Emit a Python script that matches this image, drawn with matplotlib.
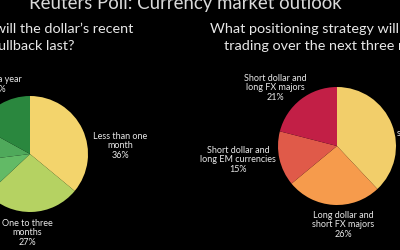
import matplotlib
matplotlib.use('Agg')
import matplotlib.pyplot as plt

W, H = 400, 251

title = "Reuters Poll: Currency market outlook"

# left poll: how long will the pullback last
q1_lines = ["How long will the dollar\u2019s recent", "pullback last?"]
left_labels = ["Less than one\nmonth", "One to three\nmonths", "Three to six\nmonths",
               "Six months to\na year", "More than a year"]
left_values = [36, 27, 10, 10, 17]
left_colors = ['#F3D46C', '#B5D262', '#62BA66', '#4FA95B', '#2A873E']

# right poll: positioning strategy
q2_lines = ["What positioning strategy will be best for", "trading over the next three months?"]
right_labels = ["Long dollar and\nshort EM currencies", "Long dollar and\nshort FX majors",
                "Short dollar and\nlong EM currencies", "Short dollar and\nlong FX majors"]
right_values = [38, 26, 15, 21]
right_colors = ['#F2CE6A', '#F69B4C', '#E05A49', '#C21F46']

FONT = ['Lato', 'DejaVu Sans']
TXT = '#E8E8E8'

fig = plt.figure(figsize=(W / 100, H / 100), dpi=100, facecolor='black')
ax = fig.add_axes([0, 0, 1, 1])
ax.set_facecolor('black')

def py(y):
    # pixel row (from top) -> data y
    return H - y

# pies, clockwise from 12 o'clock
ax.pie(left_values, colors=left_colors, startangle=90, counterclock=False,
       center=(30, py(155)), radius=58, wedgeprops=dict(linewidth=0))
ax.pie(right_values, colors=right_colors, startangle=90, counterclock=False,
       center=(337, py(147)), radius=59, wedgeprops=dict(linewidth=0))

ax.set_xlim(0, W)
ax.set_ylim(0, H)
ax.set_aspect('equal')
ax.axis('off')

# title and questions
ax.text(185, py(9), title, ha='center', va='baseline', fontsize=13.4, color='#DADADA', family=FONT)
ax.text(133, py(33), q1_lines[0], ha='right', va='baseline', fontsize=10.4, color=TXT, family=FONT)
ax.text(74, py(50), q1_lines[1], ha='right', va='baseline', fontsize=10.4, color=TXT, family=FONT)
ax.text(210, py(33), q2_lines[0], ha='left', va='baseline', fontsize=10.4, color=TXT, family=FONT)
ax.text(224, py(50), q2_lines[1], ha='left', va='baseline', fontsize=10.4, color=TXT, family=FONT)

# slice labels (positions in pixels from top-left)
lab_kw = dict(fontsize=6.5, color=TXT, family=FONT, linespacing=1.05)
left_pos = [(120, 146, 'center'), (27, 233, 'center'), None, None, None]
for lab, val, pos in zip(left_labels, left_values, left_pos):
    if pos is None:
        continue
    x, y, ha = pos
    ax.text(x, py(y), f"{lab}\n{val}%", ha=ha, va='center', multialignment='center', **lab_kw)
# dark green slice label sits off the left edge
ax.text(22, py(80), left_labels[4], ha='right', va='center', **lab_kw)
ax.text(6, py(90), f"{left_values[4]}%", ha='right', va='center', **lab_kw)

right_pos = [(397, 133, 'left'), (343, 225, 'center'), (238, 160, 'center'), (275, 88, 'center')]
for lab, val, (x, y, ha) in zip(right_labels, right_values, right_pos):
    ax.text(x, py(y), f"{lab}\n{val}%", ha=ha, va='center', multialignment='center', **lab_kw)

fig.savefig('out.png', dpi=100, facecolor='black')
